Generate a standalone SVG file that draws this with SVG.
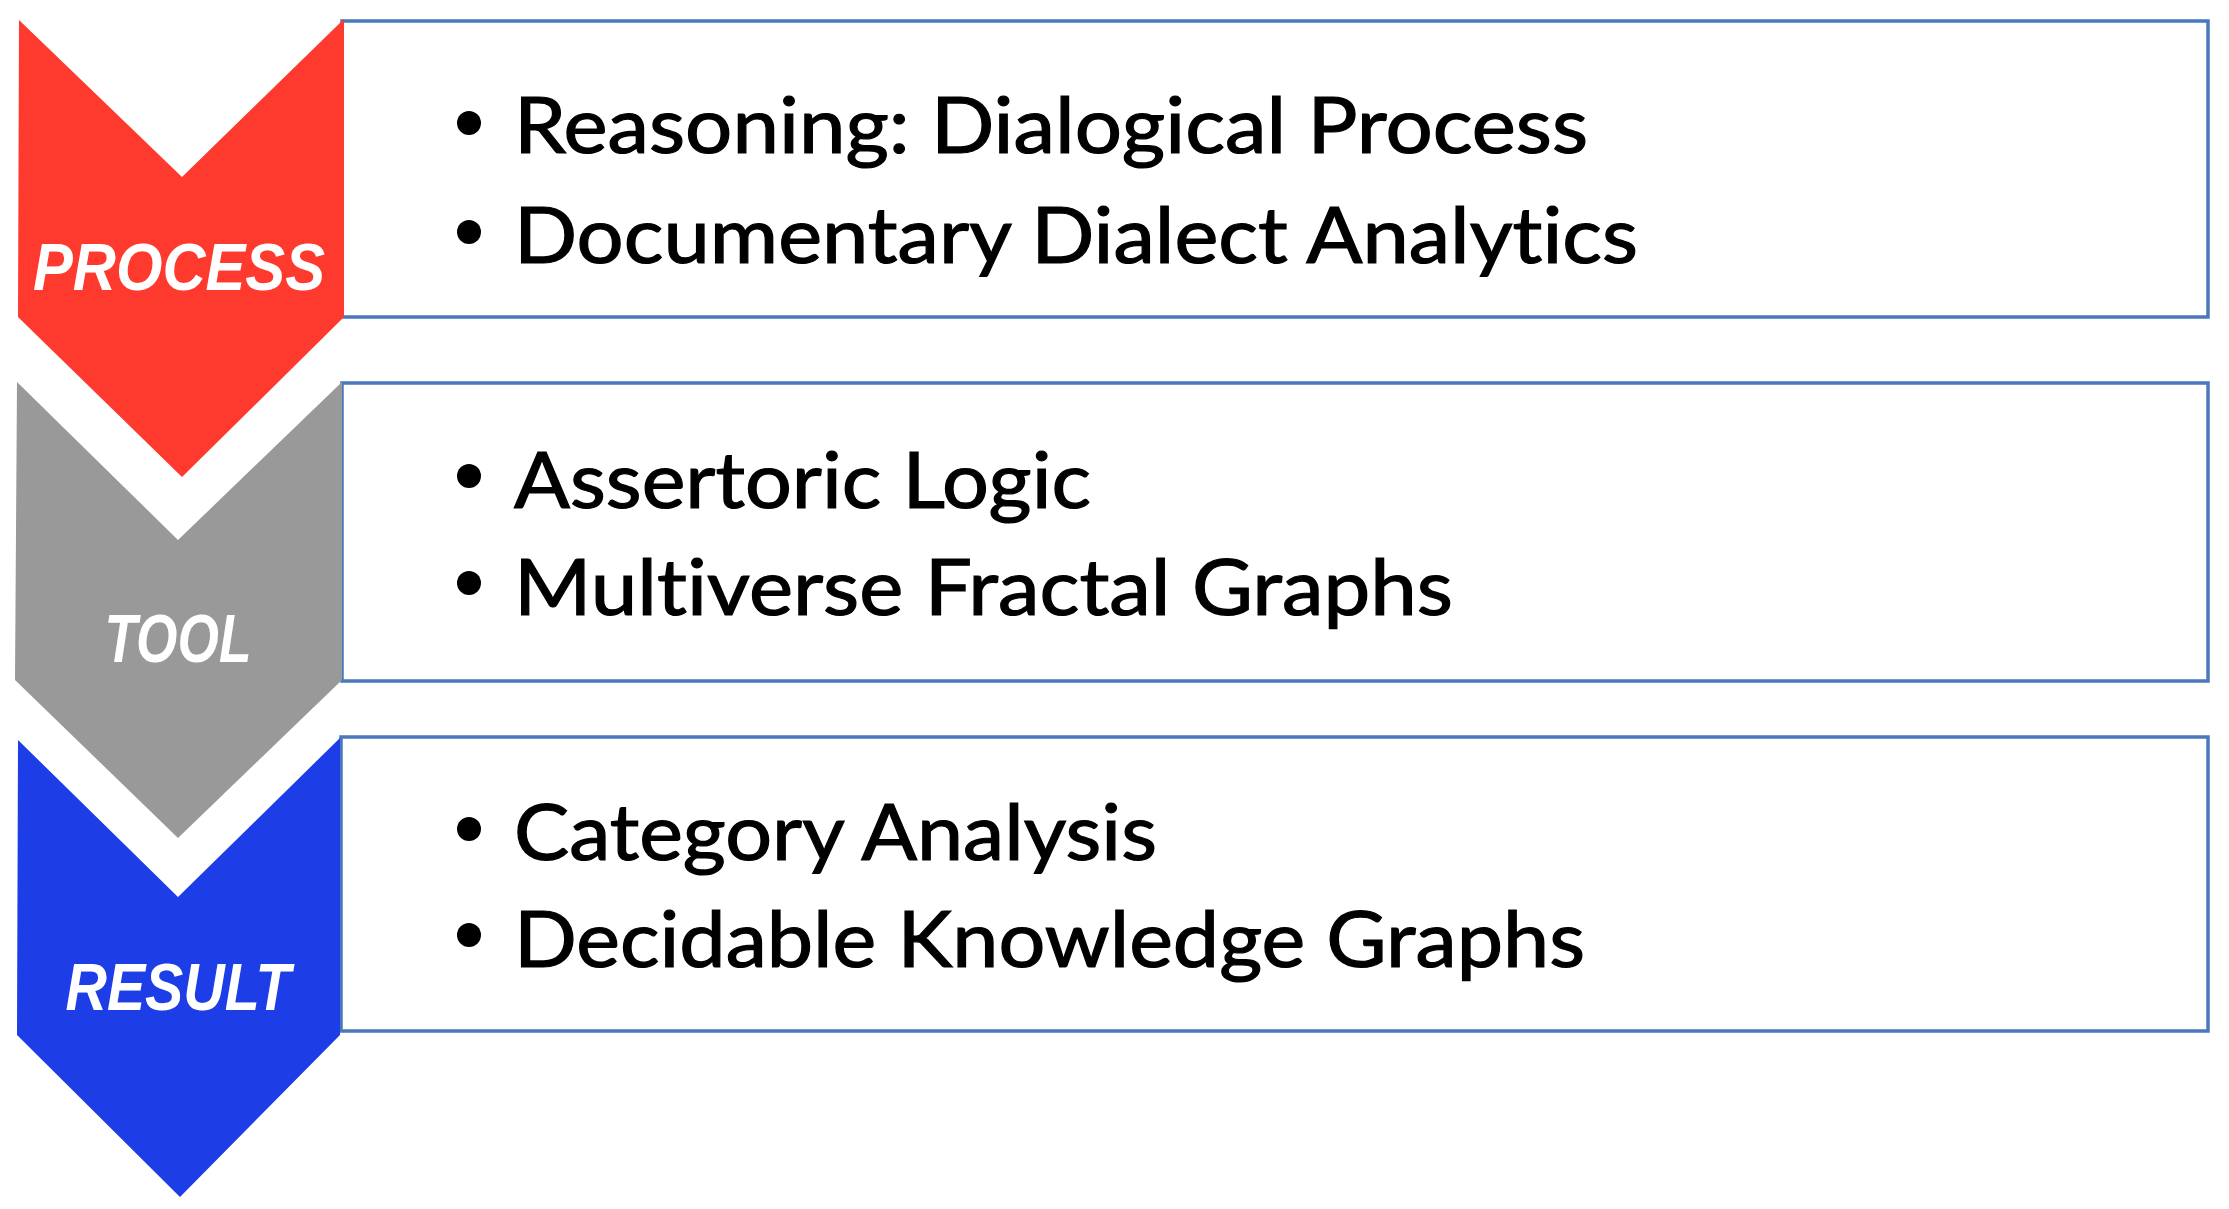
<svg xmlns="http://www.w3.org/2000/svg" width="2229" height="1209" viewBox="0 0 2229 1209">
<style>
.box{fill:#ffffff;stroke:#4a78bd;stroke-width:3.5}
.lbl{font-family:"Liberation Sans",Arial,sans-serif;font-weight:bold;font-style:italic;fill:#ffffff;text-anchor:middle}
.item{font-family:Lato,"Open Sans",sans-serif;font-size:78px;fill:#000000;stroke:#000000;stroke-width:1.2;font-variant-ligatures:none;font-feature-settings:"liga" 0}
.dot{fill:#000000}
</style>
<rect width="2229" height="1209" fill="#ffffff"/>
<g id="connectors"></g>
<g id="box-process">
<rect class="box" x="342" y="21" width="1866" height="296"/>
<circle class="dot" cx="469" cy="123" r="12"/>
<text class="item" x="514" y="153" textLength="1074" lengthAdjust="spacingAndGlyphs">Reasoning: Dialogical Process</text>
<circle class="dot" cx="469" cy="232" r="12"/>
<text class="item" x="514" y="263" textLength="1124" lengthAdjust="spacingAndGlyphs">Documentary Dialect Analytics</text>
</g>
<g id="box-tool">
<rect class="box" x="342" y="383" width="1866" height="298"/>
<circle class="dot" cx="469" cy="476" r="12"/>
<text class="item" x="514" y="508" textLength="577" lengthAdjust="spacingAndGlyphs">Assertoric Logic</text>
<circle class="dot" cx="469" cy="583" r="12"/>
<text class="item" x="514" y="615" textLength="939" lengthAdjust="spacingAndGlyphs">Multiverse Fractal Graphs</text>
</g>
<g id="box-result">
<rect class="box" x="341" y="737" width="1867" height="294"/>
<circle class="dot" cx="469" cy="829" r="12"/>
<text class="item" x="514" y="860" textLength="643" lengthAdjust="spacingAndGlyphs">Category Analysis</text>
<circle class="dot" cx="469" cy="935" r="12"/>
<text class="item" x="514" y="967" textLength="1071" lengthAdjust="spacingAndGlyphs">Decidable Knowledge Graphs</text>
</g>
<g id="chevron-process">
<polygon points="19,20 182,177 344,19 344,317 182,477 18,317" fill="#fe3a2e"/>
<text class="lbl" x="179" y="290" font-size="66" textLength="292" lengthAdjust="spacingAndGlyphs">PROCESS</text>
</g>
<g id="chevron-tool">
<polygon points="17,382 178,540 342,382 342,680 178,838 15,680" fill="#999999"/>
<text class="lbl" x="178" y="662" font-size="68" textLength="147" lengthAdjust="spacingAndGlyphs">TOOL</text>
</g>
<g id="chevron-result">
<polygon points="18,740 178,897 340,738 340,1035 180,1197 17,1035" fill="#1d3de6"/>
<text class="lbl" x="178" y="1010" font-size="66" textLength="225" lengthAdjust="spacingAndGlyphs">RESULT</text>
</g>
</svg>
